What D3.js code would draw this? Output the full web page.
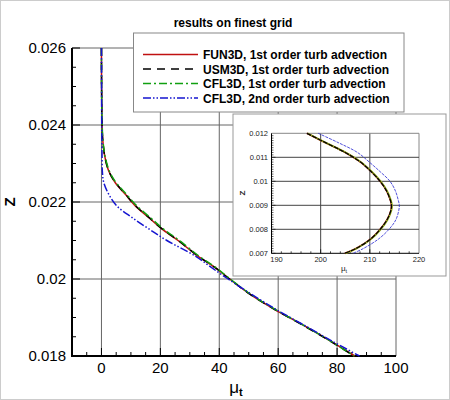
<!DOCTYPE html>
<html>
<head>
<meta charset="UTF-8">
<title>results on finest grid</title>
<style>
  body { margin: 0; background: #fff; }
  svg { display: block; font-family: "Liberation Sans", Arial, sans-serif; }
</style>
<script src="https://d3js.org/d3.v7.min.js"></script>
</head>
<body>
<svg id="chart" width="450" height="400"></svg>
<script>
// main plot: z levels and mu_t for each code
const zMain = [0.026, 0.025, 0.024, 0.0236, 0.0232, 0.0228, 0.0225, 0.0222, 0.0219, 0.0216,
               0.0213, 0.021, 0.0206, 0.0203, 0.02, 0.0196, 0.0192, 0.0188, 0.0184, 0.018];
const muFun3d = [0, 0.05, 0.2, 0.45, 1.1, 2.5, 4.7, 8.1, 11.5, 16, 20.5, 26, 32.6, 38.5, 43.5, 50.5, 59, 68.5, 77.5, 86];
const muUsm3d = [0, 0.05, 0.2, 0.45, 1.1, 2.5, 4.8, 8.2, 11.6, 16.1, 20.6, 26.1, 32.7, 38.5, 43.5, 50.5, 59, 68.4, 77.4, 85.8];
const muCfl1  = [0, 0.05, 0.25, 0.5, 1.2, 2.7, 5, 8.5, 12, 16.5, 21, 26.5, 33, 38.8, 43.7, 50.7, 59.2, 68.5, 77.5, 85.8];
const muCfl2  = [0, 0.05, 0.1, 0.15, 0.2, 0.3, 0.8, 2.5, 5.2, 10.3, 16.1, 22.2, 31.8, 37.3, 43, 51, 59.5, 68.8, 78, 87.6];

// inset (zoom on the near-wall peak)
const zInset = [0.012, 0.0116, 0.0112, 0.0108, 0.0104, 0.01, 0.0096, 0.0092, 0.009, 0.0088, 0.0084, 0.008, 0.0076, 0.0072, 0.007];
const inFun3d = [197.2, 201.0, 205.0, 208.1, 210.3, 212.1, 213.4, 214.2, 214.4, 214.3, 213.5, 212.1, 210.2, 207.2, 204.9];
const inUsm3d = [197.2, 201.1, 205.0, 208.1, 210.3, 212.1, 213.4, 214.2, 214.4, 214.3, 213.5, 212.1, 210.2, 207.2, 204.9];
const inCfl1  = [197.3, 201.1, 205.1, 208.2, 210.4, 212.2, 213.5, 214.3, 214.5, 214.4, 213.6, 212.2, 210.3, 207.3, 205.0];
const inCfl2  = [199.5, 203.7, 207.5, 209.9, 212.1, 214.1, 215.2, 215.8, 216.0, 215.9, 215.3, 213.9, 211.8, 208.7, 206.6];

const seriesNames = ["FUN3D, 1st order turb advection", "USM3D, 1st order turb advection",
                     "CFL3D, 1st order turb advection", "CFL3D, 2nd order turb advection"];
const xTicks = [0, 20, 40, 60, 80, 100];
const yTicks = [0.018, 0.02, 0.022, 0.024, 0.026];
const xTicksIn = [190, 200, 210, 220];
const yTicksIn = [0.007, 0.008, 0.009, 0.01, 0.011, 0.012];

const styles = [
  { color: "#c01010", dash: null,              w: 1.5 },
  { color: "#000000", dash: "8,6",             w: 1.5 },
  { color: "#10a010", dash: "8,3,2,3",         w: 1.5 },
  { color: "#1515d0", dash: "8,2,1.5,2,1.5,2", w: 1.5 }
];

const svg = d3.select("#chart");
svg.append("rect").attr("x", 0.5).attr("y", 0.5).attr("width", 449).attr("height", 399)
  .attr("fill", "#fff").attr("stroke", "#ccc");

// ---------- main plot ----------
const x = d3.scaleLinear().domain([-10, 100]).range([72, 396]);
const y = d3.scaleLinear().domain([0.018, 0.026]).range([356, 48]);

const grid = svg.append("g").attr("stroke", "#666").attr("stroke-width", 1);
grid.selectAll(".gx").data(xTicks).enter().append("line")
  .attr("x1", d => x(d)).attr("x2", d => x(d)).attr("y1", y(0.026)).attr("y2", y(0.018));
grid.selectAll(".gy").data(yTicks).enter().append("line")
  .attr("x1", x(-10)).attr("x2", x(100)).attr("y1", d => y(d)).attr("y2", d => y(d));

// minor ticks
const ax = svg.append("g").attr("stroke", "#000").attr("stroke-width", 1);
ax.selectAll(".mx").data(d3.range(-5, 100, 5)).enter().append("line")
  .attr("x1", d => x(d)).attr("x2", d => x(d)).attr("y1", y(0.018)).attr("y2", d => y(0.018) - (d % 20 === 0 ? 8 : 4));
ax.selectAll(".my").data(d3.range(0, 17).map(i => 0.018 + i * 0.0005)).enter().append("line")
  .attr("x1", x(-10)).attr("x2", (d, i) => x(-10) + (i % 4 === 0 ? 8 : 4)).attr("y1", d => y(d)).attr("y2", d => y(d));
ax.append("line").attr("x1", x(-10)).attr("x2", x(-10)).attr("y1", y(0.026)).attr("y2", y(0.018) + 1).attr("stroke-width", 2);
ax.append("line").attr("x1", x(-10) - 1).attr("x2", x(100)).attr("y1", y(0.018)).attr("y2", y(0.018)).attr("stroke-width", 2);

svg.selectAll(".xl").data(xTicks).enter().append("text")
  .attr("x", d => x(d)).attr("y", 373).attr("text-anchor", "middle")
  .attr("font-size", 15).text(d => d);
svg.selectAll(".yl").data(yTicks).enter().append("text")
  .attr("x", 66).attr("y", d => y(d) + 5).attr("text-anchor", "end")
  .attr("font-size", 15).text(d => d);

const xlab = svg.append("text").attr("x", 236).attr("y", 393).attr("text-anchor", "middle").attr("font-size", 17);
xlab.append("tspan").text("\u03bc");
xlab.append("tspan").attr("dy", 3).attr("font-size", 11).attr("font-weight", "bold").text("t");
svg.append("text").attr("transform", "translate(15,202) rotate(-90)").attr("text-anchor", "middle")
  .attr("font-size", 15).attr("font-weight", "bold").text("Z");

const mainSeries = [muFun3d, muUsm3d, muCfl1, muCfl2];
const lineMain = d3.line().x(d => x(d[0])).y(d => y(d[1])).curve(d3.curveCatmullRom.alpha(0.5));
mainSeries.forEach((mu, i) => {
  svg.append("path").datum(mu.map((m, j) => [m, zMain[j]]))
    .attr("d", lineMain).attr("fill", "none")
    .attr("stroke", styles[i].color).attr("stroke-width", styles[i].w)
    .attr("stroke-dasharray", styles[i].dash);
});

// title
svg.append("text").attr("x", 233).attr("y", 27).attr("text-anchor", "middle")
  .attr("font-size", 12).attr("font-weight", "bold").text("results on finest grid");

// legend
const lg = svg.append("g");
lg.append("rect").attr("x", 133.5).attr("y", 33).attr("width", 270.5).attr("height", 79)
  .attr("fill", "#fff").attr("stroke", "#888");
seriesNames.forEach((name, i) => {
  const ly = 54.5 + i * 14.5;
  lg.append("line").attr("x1", 143).attr("x2", 198).attr("y1", ly).attr("y2", ly)
    .attr("stroke", styles[i].color).attr("stroke-width", styles[i].w)
    .attr("stroke-dasharray", styles[i].dash);
  lg.append("text").attr("x", 203).attr("y", ly + 4.5).attr("font-size", 12)
    .attr("font-weight", "bold").text(name);
});

// ---------- inset ----------
const ins = svg.append("g");
ins.append("rect").attr("x", 233).attr("y", 114).attr("width", 213).attr("height", 162)
  .attr("fill", "#fff").attr("stroke", "#999");
const xi = d3.scaleLinear().domain([190, 220]).range([271.5, 419]);
const yi = d3.scaleLinear().domain([0.007, 0.012]).range([253.3, 133.3]);

ins.selectAll(".gxi").data(xTicksIn.slice(1)).enter().append("line")
  .attr("x1", d => xi(d)).attr("x2", d => xi(d)).attr("y1", yi(0.012)).attr("y2", yi(0.007))
  .attr("stroke", d => d === 220 ? "#888" : "#444").attr("stroke-width", 1);
ins.selectAll(".gyi").data(yTicksIn.slice(1)).enter().append("line")
  .attr("x1", xi(190)).attr("x2", xi(220)).attr("y1", d => yi(d)).attr("y2", d => yi(d))
  .attr("stroke", d => d === 0.012 ? "#888" : "#444").attr("stroke-width", 1);
ins.selectAll(".mxi").data(d3.range(190, 220, 2)).enter().append("line")
  .attr("x1", d => xi(d)).attr("x2", d => xi(d)).attr("y1", yi(0.007)).attr("y2", d => yi(0.007) - (d % 10 === 0 ? 4 : 2))
  .attr("stroke", "#000").attr("stroke-width", 0.7);
ins.selectAll(".myi").data(d3.range(0, 50).map(i => 0.007 + i * 0.0001)).enter().append("line")
  .attr("x1", xi(190)).attr("x2", (d, i) => xi(190) + (i % 10 === 0 ? 4 : 2)).attr("y1", d => yi(d)).attr("y2", d => yi(d))
  .attr("stroke", "#000").attr("stroke-width", 0.6);
ins.append("line").attr("x1", xi(190)).attr("x2", xi(190)).attr("y1", yi(0.012)).attr("y2", yi(0.007)).attr("stroke", "#000");
ins.append("line").attr("x1", xi(190)).attr("x2", xi(220)).attr("y1", yi(0.007)).attr("y2", yi(0.007)).attr("stroke", "#000");

ins.selectAll(".xli").data(xTicksIn).enter().append("text")
  .attr("x", (d, i) => xi(d) + (i === 0 ? 5 : 0)).attr("y", 262).attr("text-anchor", "middle")
  .attr("font-size", 7.5).attr("fill", "#222").text(d => d);
ins.selectAll(".yli").data(yTicksIn).enter().append("text")
  .attr("x", 268).attr("y", d => yi(d) + 2.5).attr("text-anchor", "end")
  .attr("font-size", 7.5).attr("fill", "#222").text(d => d3.format(".3f")(d).replace(/0+$/, "").replace(/\.$/, ""));
const xlabi = ins.append("text").attr("x", 344).attr("y", 271).attr("text-anchor", "middle").attr("font-size", 8).attr("fill", "#222");
xlabi.append("tspan").text("\u03bc");
xlabi.append("tspan").attr("dy", 1.5).attr("font-size", 5.5).text("t");
ins.append("text").attr("transform", "translate(245,193) rotate(-90)").attr("text-anchor", "middle")
  .attr("font-size", 8).attr("font-weight", "bold").attr("fill", "#222").text("Z");

const insetSeries = [inFun3d, inCfl1, inUsm3d, inCfl2];
const insetStyle = [
  { color: "#c01010", dash: null,  w: 1.6 },
  { color: "#9ab020", dash: null,  w: 1.8 },
  { color: "#000000", dash: "5,1", w: 1.3 },
  { color: "#2525d0", dash: "3,1", w: 0.8 }
];
const lineIn = d3.line().x(d => xi(d[0])).y(d => yi(d[1])).curve(d3.curveCatmullRom.alpha(0.5));
insetSeries.forEach((mu, i) => {
  ins.append("path").datum(mu.map((m, j) => [m, zInset[j]]))
    .attr("d", lineIn).attr("fill", "none")
    .attr("stroke", insetStyle[i].color).attr("stroke-width", insetStyle[i].w)
    .attr("stroke-dasharray", insetStyle[i].dash);
});
</script>
</body>
</html>
